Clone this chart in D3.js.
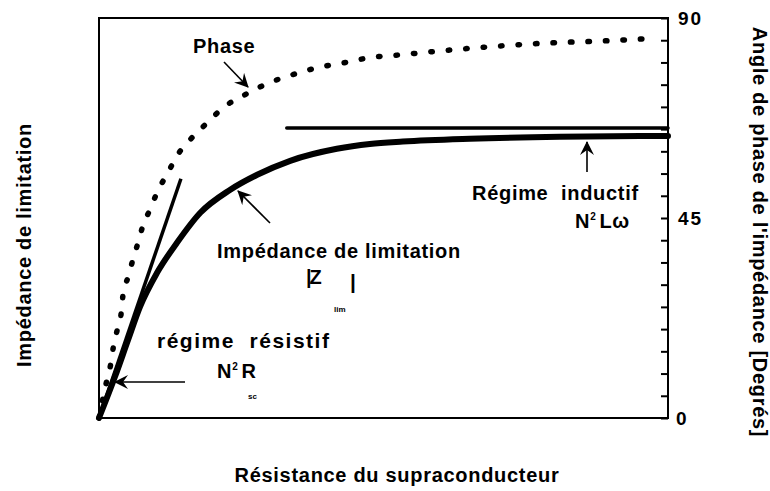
<!DOCTYPE html>
<html>
<head>
<meta charset="utf-8">
<script src="https://cdn.jsdelivr.net/npm/d3@7"></script>
<style>
  body { margin: 0; background: #fff; }
  text { font-family: "Liberation Sans", Arial, sans-serif; font-weight: bold; fill: #000;
         font-size: 20px; letter-spacing: 0.7px; white-space: pre; }
</style>
</head>
<body>
<div id="chart"></div>
<script>
// chart size
var width = 770,
    height = 491;

var margin = {top: 18, right: 102, bottom: 73, left: 99};

// values (resistance in arbitrary units 0..100)
var impedanceX = [0, 2.8, 5.1, 7.2, 10.2, 13.7, 17.8, 23.0, 27.8, 33.6, 41.8, 47.6, 53.4, 65.2, 81.0, 100];
var impedanceY = [0, 10.3, 19.5, 27.8, 36.3, 43.8, 51.3, 57.0, 60.8, 64.3, 67.3, 68.5, 69.1, 69.8, 70.3, 70.5];

var phaseX = [0, 0.7, 1.4, 2.1, 2.5, 3.2, 3.9, 4.2, 5.1, 6.0, 6.9, 7.7, 9.0, 10.4, 12.0, 13.7, 16.0, 19.0, 22.0, 25.3, 28.3, 31.3, 34.4, 37.4, 40.6, 43.8, 47.1, 52.9, 61.7, 70.5, 79.3, 88.0, 98.1];
var phaseDeg = [0, 4.5, 8.6, 12.4, 15.8, 19.8, 23.6, 27.5, 31.7, 35.8, 39.6, 43.2, 47.0, 51.3, 54.9, 59.0, 62.6, 66.4, 70.0, 72.5, 74.5, 76.1, 77.4, 78.5, 79.4, 80.1, 81.0, 81.7, 82.8, 83.7, 84.4, 84.8, 85.5];

// asymptotes
var resistiveLine = [[0, 0], [14.4, 59.8]];
var inductiveLine = [[33, 72.5], [100, 72.5]];

// right axis ticks
var phaseTicks = d3.range(0, 91, 5);
var phaseLabels = [0, 45, 90];

var svg = d3.select("#chart").append("svg")
    .attr("width", width)
    .attr("height", height);

var x = d3.scaleLinear().domain([0, 100]).range([margin.left, width - margin.right]);
var y = d3.scaleLinear().domain([0, 100]).range([height - margin.bottom, margin.top]);
var yPhase = d3.scaleLinear().domain([0, 90]).range([height - margin.bottom, margin.top]);

// arrow head marker
var defs = svg.append("defs");
defs.append("marker")
    .attr("id", "head")
    .attr("viewBox", "0 0 14 14")
    .attr("refX", 13).attr("refY", 7)
    .attr("markerWidth", 14).attr("markerHeight", 14)
    .attr("markerUnits", "userSpaceOnUse")
    .attr("orient", "auto")
  .append("path")
    .attr("d", "M0,0 L14,7 L0,14 L5,7 Z")
    .attr("fill", "#000");

// frame
var x0 = x(0), x1 = x(100), yb = y(0), yt = y(100);
svg.append("path")
    .attr("d", "M" + x0 + "," + yb + "V" + yt + "H" + x1 + "V" + yb + "Z")
    .attr("fill", "none")
    .attr("stroke", "#000")
    .attr("stroke-width", 2);

// right phase axis, ticks pointing inward
var axisR = svg.append("g")
    .attr("transform", "translate(" + x1 + ",0)")
    .call(d3.axisLeft(yPhase).tickValues(phaseTicks).tickSize(7).tickFormat(""));
axisR.select(".domain").remove();
axisR.selectAll("line").attr("stroke-width", 2);

svg.selectAll(".plabel")
    .data(phaseLabels)
  .enter().append("text")
    .attr("class", "plabel")
    .attr("x", function(d) { return d == 0 ? x1 + 8 : x1 + 10; })
    .attr("y", function(d) { return yPhase(d) + 7; })
    .style("font-size", "19px")
    .style("letter-spacing", "2px")
    .text(function(d) { return d; });

// phase (dotted)
var phaseData = phaseX.map(function(v, i) { return [v, phaseDeg[i]]; });
svg.append("path")
    .attr("d", d3.line()
        .x(function(d) { return x(d[0]); })
        .y(function(d) { return yPhase(d[1]); })
        .curve(d3.curveMonotoneX)(phaseData))
    .attr("fill", "none")
    .attr("stroke", "#000")
    .attr("stroke-width", 5.5)
    .attr("stroke-linecap", "round")
    .attr("stroke-dasharray", "1.5 16");

// asymptote lines
svg.append("path")
    .attr("d", d3.line().x(function(d) { return x(d[0]); }).y(function(d) { return y(d[1]); })(resistiveLine))
    .attr("stroke", "#000").attr("stroke-width", 3.5).attr("fill", "none");
svg.append("path")
    .attr("d", d3.line().x(function(d) { return x(d[0]); }).y(function(d) { return y(d[1]); })(inductiveLine))
    .attr("stroke", "#000").attr("stroke-width", 3.5).attr("stroke-linecap", "round").attr("fill", "none");

// impedance curve (thick)
var impData = impedanceX.map(function(v, i) { return [v, impedanceY[i]]; });
svg.append("path")
    .attr("d", d3.line()
        .x(function(d) { return x(d[0]); })
        .y(function(d) { return y(d[1]); })
        .curve(d3.curveMonotoneX)(impData))
    .attr("fill", "none")
    .attr("stroke", "#000")
    .attr("stroke-width", 6)
    .attr("stroke-linecap", "round");

// arrows pointing at the curves
function arrow(xa, ya, xb, yb) {
  svg.append("line")
      .attr("x1", xa).attr("y1", ya).attr("x2", xb).attr("y2", yb)
      .attr("stroke", "#000").attr("stroke-width", 1.6)
      .attr("marker-end", "url(#head)");
}
arrow(224, 62, 248, 87);
arrow(270, 223, 238, 191);
arrow(185, 382, 115, 382);
arrow(587, 172, 587, 142);

// text annotations
function label(tx, ty, s, size) {
  var t = svg.append("text")
      .attr("x", tx).attr("y", ty)
      .text(s);
  if (size) t.style("font-size", size + "px");
  return t;
}
label(193, 53, "Phase");
label(217, 258, "Impédance de limitation");
label(157, 348, "régime  résistif", 21).style("letter-spacing", "1.5px");
label(472, 200, "Régime  inductif");

// |Z lim|
label(306, 284, "|Z").style("letter-spacing", "-2px");
label(350, 289, "|", 21);
label(334, 312, "lim", 8).style("letter-spacing", "0px");

// N²R sc
var nr = label(217, 378, "N");
nr.append("tspan").attr("dy", -8).style("font-size", "10px").text("2");
nr.append("tspan").attr("dy", 8).attr("dx", 3).text("R");
label(248, 399, "sc", 8).style("letter-spacing", "0px");

// N²Lω
var nl = label(575, 228, "N");
nl.append("tspan").attr("dy", -8).style("font-size", "10px").text("2");
nl.append("tspan").attr("dy", 8).attr("dx", 3).text("Lω");

// axis titles
svg.append("text")
    .attr("transform", "translate(31,245) rotate(-90)")
    .attr("text-anchor", "middle")
    .text("Impédance de limitation");

svg.append("text")
    .attr("transform", "translate(753,232) rotate(90)")
    .attr("text-anchor", "middle")
    .text("Angle de phase de l'impédance [Degrés]");

svg.append("text")
    .attr("x", 397).attr("y", 482)
    .attr("text-anchor", "middle")
    .text("Résistance du supraconducteur");
</script>
</body>
</html>
